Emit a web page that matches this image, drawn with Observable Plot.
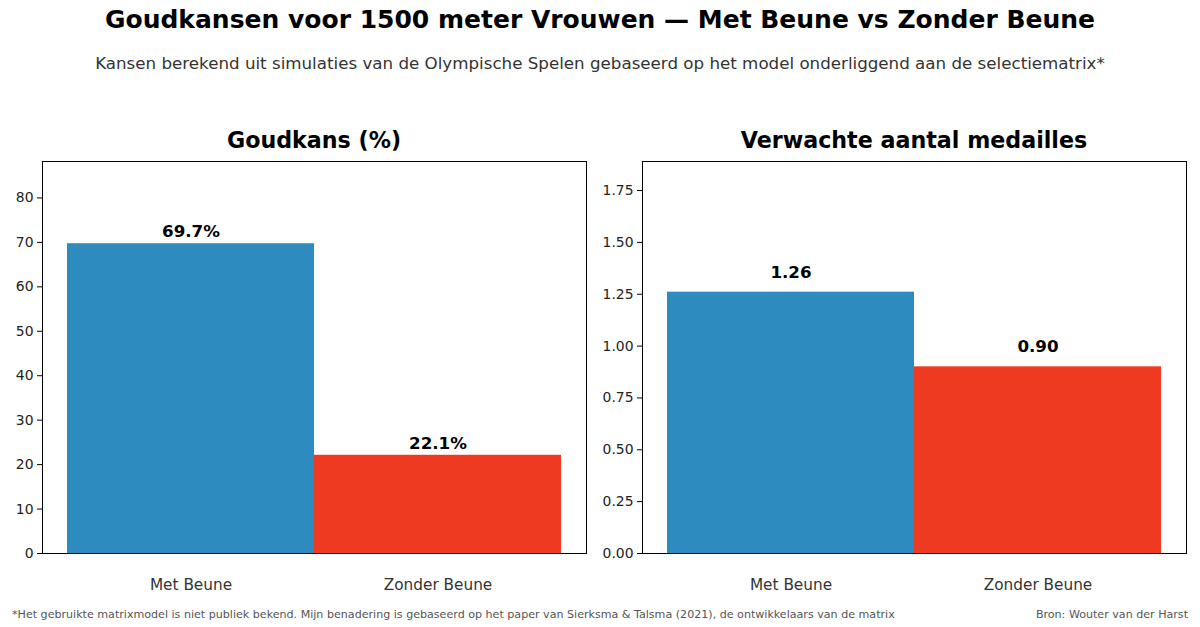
<!DOCTYPE html>
<html>
<head>
<meta charset="utf-8">
<script src="https://cdn.jsdelivr.net/npm/d3@7"></script>
<script src="https://cdn.jsdelivr.net/npm/@observablehq/plot@0.6"></script>
<style>
  html, body { margin: 0; padding: 0; background: #fff; }
  body { width: 1200px; height: 627px; position: relative; overflow: hidden; font-family: "DejaVu Sans", sans-serif; }
  .abs { position: absolute; white-space: nowrap; }
  #title { left: 0; width: 1200px; top: 5px; text-align: center; font-weight: bold; font-size: 25px; color: #000; }
  #subtitle { left: 0; width: 1200px; top: 53px; text-align: center; font-size: 16.7px; color: #333; }
  .ptitle { top: 127px; width: 600px; text-align: center; font-weight: bold; font-size: 22.2px; color: #000; }
  #foot { left: 12px; top: 608px; font-size: 11.1px; color: #555; }
  #bron { right: 12px; top: 608px; font-size: 11.1px; color: #555; }
  .panel { position: absolute; top: 150px; }
</style>
</head>
<body>
<div id="title" class="abs">Goudkansen voor 1500 meter Vrouwen — Met Beune vs Zonder Beune</div>
<div id="subtitle" class="abs">Kansen berekend uit simulaties van de Olympische Spelen gebaseerd op het model onderliggend aan de selectiematrix*</div>
<div class="abs ptitle" style="left:14px">Goudkans (%)</div>
<div class="abs ptitle" style="left:614px">Verwachte aantal medailles</div>
<div id="p1" class="panel" style="left:0px"></div>
<div id="p2" class="panel" style="left:600px"></div>
<div id="foot" class="abs">*Het gebruikte matrixmodel is niet publiek bekend. Mijn benadering is gebaseerd op het paper van Sierksma &amp; Talsma (2021), de ontwikkelaars van de matrix</div>
<div id="bron" class="abs">Bron: Wouter van der Harst</div>
<script>
const categories = ["Met Beune", "Zonder Beune"];
const goudkans = [69.7, 22.1];
const medailles = [1.26, 0.90];
const barColors = ["#2E8BC0", "#EF3A22"];
const goudTicks = [0, 10, 20, 30, 40, 50, 60, 70, 80];
const medTicks = [0, 0.25, 0.5, 0.75, 1.0, 1.25, 1.5, 1.75];

function panel(values, yMax, ticks, tickFmt, labelFmt, offset) {
  const data = categories.map((c, i) => ({cat: c, value: values[i]}));
  return Plot.plot({
    width: 600, height: 460,
    marginLeft: 42, marginRight: 14, marginTop: 11, marginBottom: 57,
    style: {fontFamily: "DejaVu Sans, sans-serif", background: "transparent"},
    x: {domain: categories, paddingInner: 0, paddingOuter: 0.1},
    y: {domain: [0, yMax]},
    color: {domain: categories, range: barColors},
    marks: [
      Plot.barY(data, {x: "cat", y: "value", fill: "cat"}),
      Plot.text(data, {x: "cat", y: d => d.value + offset, text: d => labelFmt(d.value),
        lineAnchor: "bottom", fontWeight: "bold", fontSize: 16.7, fill: "#000"}),
      Plot.axisY({ticks: ticks, tickFormat: tickFmt, tickSize: 5, tickPadding: 4, fontSize: 13.9, label: null, stroke: "#000", fill: "#222"}),
      Plot.axisX({tickSize: 0, tickPadding: 26, fontSize: 15.3, label: null, fill: "#333"}),
      Plot.frame({stroke: "#000", strokeWidth: 1})
    ]
  });
}

document.getElementById("p1").appendChild(
  panel(goudkans, 88.2, goudTicks, d => String(d), v => v.toFixed(1) + "%", 1.5));
document.getElementById("p2").appendChild(
  panel(medailles, 1.89, medTicks, d => d.toFixed(2), v => v.toFixed(2), 0.07));
</script>
</body>
</html>
